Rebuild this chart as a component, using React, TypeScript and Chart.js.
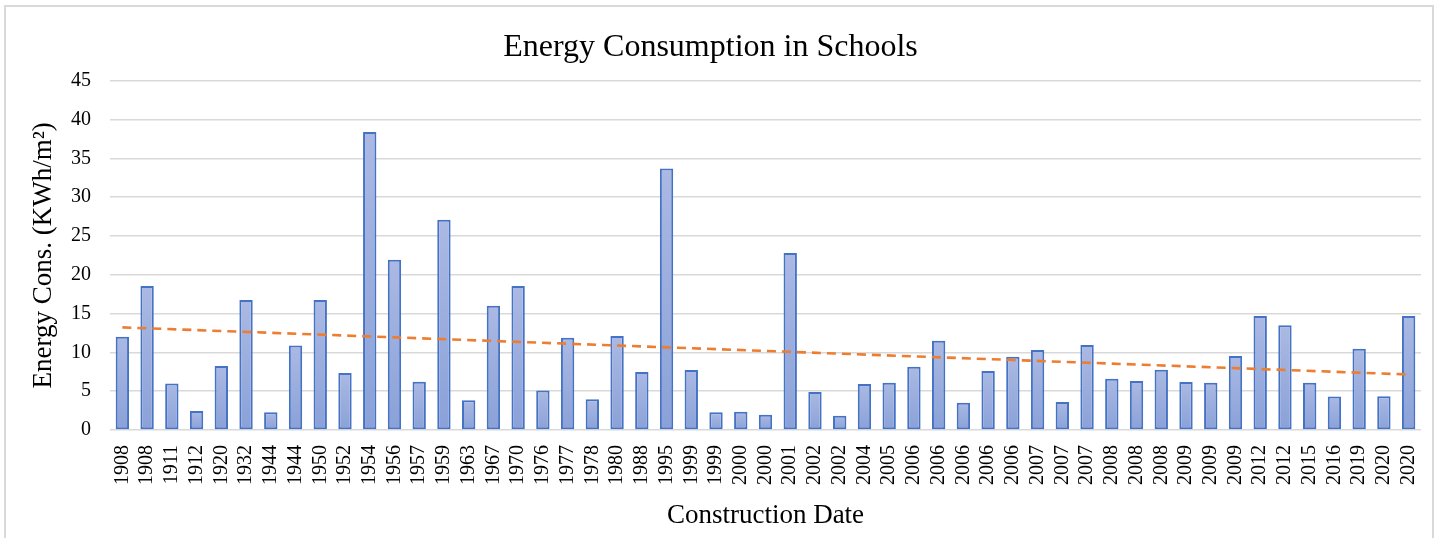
import React, { useEffect, useRef } from "react";
import { Chart, registerables } from "chart.js";

Chart.register(...registerables);

const categories: string[] = [
  "1908", "1908", "1911", "1912", "1920", "1932", "1944", "1944", "1950", "1952",
  "1954", "1956", "1957", "1959", "1963", "1967", "1970", "1976", "1977", "1978",
  "1980", "1988", "1995", "1999", "1999", "2000", "2000", "2001", "2002", "2002",
  "2004", "2005", "2006", "2006", "2006", "2006", "2006", "2007", "2007", "2007",
  "2008", "2008", "2008", "2009", "2009", "2009", "2012", "2012", "2015", "2016",
  "2019", "2020", "2020",
];

const energyValues: number[] = [
  12.0, 18.55, 6.0, 2.45, 8.24, 16.75, 2.28, 10.9, 16.75, 7.34,
  38.4, 21.94, 6.23, 27.1, 3.82, 16.0, 18.55, 5.1, 11.9, 3.95,
  12.1, 7.47, 33.7, 7.73, 2.28, 2.36, 1.98, 22.8, 4.9, 1.85,
  5.93, 6.1, 8.16, 11.5, 3.52, 7.6, 9.45, 10.3, 3.6, 10.95,
  6.6, 6.3, 7.77, 6.18, 6.1, 9.53, 14.7, 13.5, 6.1, 4.3,
  10.48, 4.34, 14.7,
];

const trendStart = 13.22;
const trendEnd = 7.15;

const yTicks: number[] = [0, 5, 10, 15, 20, 25, 30, 35, 40, 45];

const chartTitle = "Energy Consumption in Schools";
const xTitle = "Construction Date";
const yTitle = "Energy Cons. (KWh/m\u00B2)";

const FONT = "'Liberation Serif', 'Times New Roman', serif";

export default function App() {
  const canvasRef = useRef<HTMLCanvasElement | null>(null);

  useEffect(() => {
    document.body.style.margin = "0";
    const canvas = canvasRef.current;
    if (!canvas) return;
    const last = categories.length - 1;
    const trendData = categories.map((_, i) =>
      i === 0 ? trendStart : i === last ? trendEnd : null
    );

    const chart = new Chart(canvas, {
      type: "bar",
      data: {
        labels: categories,
        datasets: [
          {
            type: "line",
            label: "Trend",
            data: trendData as any,
            borderColor: "#ED7D31",
            borderWidth: 2.6,
            borderDash: [9, 6],
            pointRadius: 0,
            spanGaps: true,
            fill: false,
            order: 0,
          } as any,
          {
            type: "bar",
            label: "Energy",
            data: energyValues,
            backgroundColor: (ctx: any) => {
              const ch = ctx.chart;
              const ys = ch.scales && ch.scales.y;
              if (!ys || !ch.chartArea || ctx.raw == null) return "#9aaedd";
              const top = ys.getPixelForValue(ctx.raw);
              const bottom = ys.getPixelForValue(0);
              if (!isFinite(top) || !isFinite(bottom) || top === bottom) return "#9aaedd";
              const g = ch.ctx.createLinearGradient(0, top, 0, bottom);
              g.addColorStop(0, "#abb9e3");
              g.addColorStop(1, "#8aa1d8");
              return g;
            },
            borderColor: "#4472C4",
            borderWidth: 2,
            borderSkipped: false,
            barPercentage: 0.54,
            categoryPercentage: 1,
            order: 1,
          } as any,
        ],
      },
      options: {
        responsive: false,
        animation: false,
        devicePixelRatio: 1,
        layout: { padding: { left: 0, right: 19, top: 0, bottom: 0 } },
        plugins: {
          legend: { display: false },
          tooltip: { enabled: false },
          title: {
            display: true,
            text: chartTitle,
            color: "#000",
            font: { family: FONT, size: 32, weight: "normal" as any, lineHeight: 1.2 },
            padding: { top: 28, bottom: 14.3 },
          },
        },
        scales: {
          x: {
            grid: { display: false, drawTicks: false },
            border: { display: false },
            ticks: {
              autoSkip: false,
              maxRotation: 90,
              minRotation: 90,
              padding: 15,
              color: "#000",
              font: { family: FONT, size: 20 },
            },
            title: {
              display: true,
              text: xTitle,
              color: "#000",
              font: { family: FONT, size: 27, lineHeight: 1.2 },
              padding: { top: 0, bottom: 6 },
            },
            afterFit: (scale: any) => {
              scale.height = 108;
              scale.paddingLeft = 0;
              scale.paddingRight = 0;
            },
          },
          y: {
            min: 0,
            max: 45,
            afterBuildTicks: (scale: any) => {
              scale.ticks = yTicks.map((v) => ({ value: v }));
            },
            grid: { color: "#d9d9d9", lineWidth: 1.6, drawTicks: false },
            border: { display: false },
            ticks: {
              padding: 19,
              color: "#000",
              font: { family: FONT, size: 20 },
            },
            title: {
              display: true,
              text: yTitle,
              color: "#000",
              font: { family: FONT, size: 27, lineHeight: 1.2 },
              padding: { top: 28, bottom: 0 },
            },
            afterFit: (scale: any) => {
              scale.width = 110;
            },
          },
        },
      },
    });

    return () => {
      chart.destroy();
    };
  }, []);

  return (
    <div
      style={{
        position: "relative",
        width: 1440,
        height: 538,
        overflow: "hidden",
        background: "#fff",
      }}
    >
      <div
        style={{
          position: "absolute",
          left: 4,
          top: 5,
          width: 1430,
          height: 600,
          border: "2px solid #d9d9d9",
          boxSizing: "border-box",
        }}
      />
      <canvas
        ref={canvasRef}
        width={1440}
        height={538}
        style={{ position: "absolute", left: 0, top: 0, width: 1440, height: 538 }}
      />
    </div>
  );
}
